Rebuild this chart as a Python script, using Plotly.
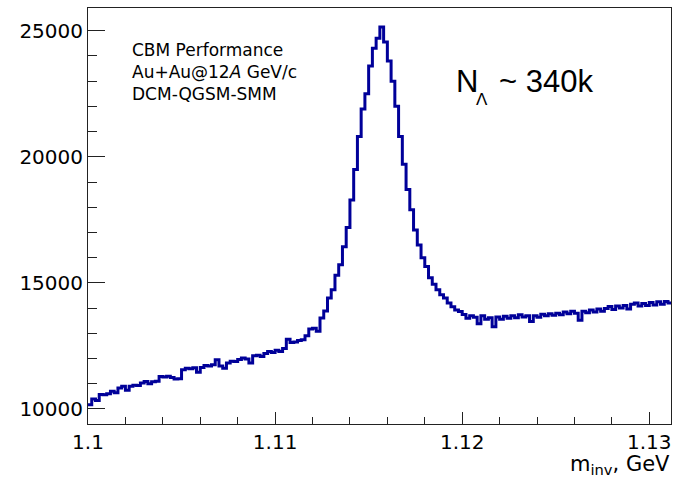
import numpy as np
import plotly.graph_objects as go

# Histogram: invariant mass of Lambda candidates
bin_start = 1.1      # GeV, low edge of first bin
bin_width = 0.0002   # GeV
counts = [
    10170, 10400, 10340, 10570, 10560, 10600, 10700, 10640, 10830, 10900,
    10740, 10900, 10940, 10930, 11030, 11090, 11000, 11080, 11100, 11290,
    11270, 11300, 11250, 11190, 11200, 11560, 11620, 11600, 11640, 11460,
    11650, 11720, 11700, 11750, 11950, 11700, 11620, 11820, 11890, 11880,
    11960, 12020, 11980, 11820, 12110, 12130, 12080, 12200, 12280, 12240,
    12330, 12280, 12400, 12770, 12640, 12660, 12720, 12750, 12900, 13170,
    13200, 13080, 13610, 13890, 14400, 14730, 15300, 15720, 16430, 17200,
    18290, 19500, 20800, 21900, 22500, 23600, 24300, 24700, 25150, 24550,
    23800, 23000, 22000, 20800, 19700, 18700, 17900, 17100, 16500, 16000,
    15650, 15200, 14950, 14730, 14530, 14400, 14200, 14050, 13930, 13870,
    13750, 13600, 13700, 13640, 13380, 13700, 13560, 13620, 13260, 13650,
    13560, 13680, 13600, 13700, 13620, 13740, 13650, 13700, 13470, 13700,
    13640, 13760, 13700, 13780, 13720, 13800, 13740, 13850, 13780, 13880,
    13800, 13520, 13880, 13820, 13930, 13850, 13960, 13880, 13980, 14060,
    13950, 14080, 14000, 14100, 13960, 14150, 14200, 14080, 14180, 14100,
    14220, 14120, 14250, 14150, 14260, 14200,
]

x_tick_vals = [1.1, 1.11, 1.12, 1.13]
x_tick_text = ["1.1", "1.11", "1.12", "1.13"]
y_tick_vals = [10000, 15000, 20000, 25000]
y_tick_text = ["10000", "15000", "20000", "25000"]

x_range = [1.1, 1.13116]
y_range = [9405, 25900]

info_lines = ["CBM Performance", "Au+Au@12<i>A</i> GeV/c", "DCM-QGSM-SMM"]
yield_symbol = "N"
yield_subscript = "Λ"
yield_value = "~ 340k"
x_title = "m<sub>inv</sub>, GeV"

# step outline built from bin edges
edges = bin_start + bin_width * np.arange(len(counts) + 1)
step_y = list(counts) + [counts[-1]]

fig = go.Figure()
fig.add_trace(go.Scatter(
    x=edges, y=step_y, mode="lines", line_shape="hv",
    line=dict(color="#000099", width=3), showlegend=False, hoverinfo="skip",
))

tick_font = dict(family="DejaVu Sans", size=20, color="black")
fig.update_layout(
    width=673, height=479,
    margin=dict(l=88, r=2, t=8, b=55),
    paper_bgcolor="white", plot_bgcolor="white",
    xaxis=dict(
        range=x_range, tickvals=x_tick_vals, ticktext=x_tick_text,
        ticks="inside", ticklen=12, tickcolor="#222", tickwidth=1,
        showline=True, linecolor="#222", linewidth=1, mirror=True,
        showgrid=False, zeroline=False, tickfont=tick_font,
        minor=dict(dtick=0.002, tick0=1.1, ticks="inside", ticklen=7, tickcolor="#222", showgrid=False),
    ),
    yaxis=dict(
        range=y_range, tickvals=y_tick_vals, ticktext=y_tick_text,
        ticks="inside", ticklen=17, tickcolor="#222", tickwidth=1,
        showline=True, linecolor="#222", linewidth=1, mirror=True,
        showgrid=False, zeroline=False, tickfont=tick_font,
        minor=dict(dtick=1000, tick0=10000, ticks="inside", ticklen=9, tickcolor="#222", showgrid=False),
    ),
)

def px_x(px):
    return (px - 88) / 583

def px_y(py):
    return 1 - (py - 8) / 416

fig.add_annotation(
    xref="paper", yref="paper", x=px_x(130), y=px_y(38),
    xanchor="left", yanchor="top", align="left", showarrow=False,
    text="<br>".join(info_lines),
    font=dict(family="DejaVu Sans", size=17, color="black"),
)
big_font = dict(family="Liberation Sans", size=31, color="black")
fig.add_annotation(
    xref="paper", yref="paper", x=px_x(454), y=px_y(62),
    xanchor="left", yanchor="top", showarrow=False,
    text=yield_symbol, font=big_font,
)
fig.add_annotation(
    xref="paper", yref="paper", x=px_x(474), y=px_y(88),
    xanchor="left", yanchor="top", showarrow=False,
    text=yield_subscript, font=dict(family="Liberation Sans", size=17, color="black"),
)
fig.add_annotation(
    xref="paper", yref="paper", x=px_x(497), y=px_y(62),
    xanchor="left", yanchor="top", showarrow=False,
    text=yield_value, font=big_font,
)
fig.add_annotation(
    xref="paper", yref="paper", x=1.0, y=-(451 - 424) / 416,
    xanchor="right", yanchor="top", showarrow=False,
    text=x_title, borderpad=0,
    font=dict(family="DejaVu Sans", size=21, color="black"),
)

fig.write_html("out.html")
